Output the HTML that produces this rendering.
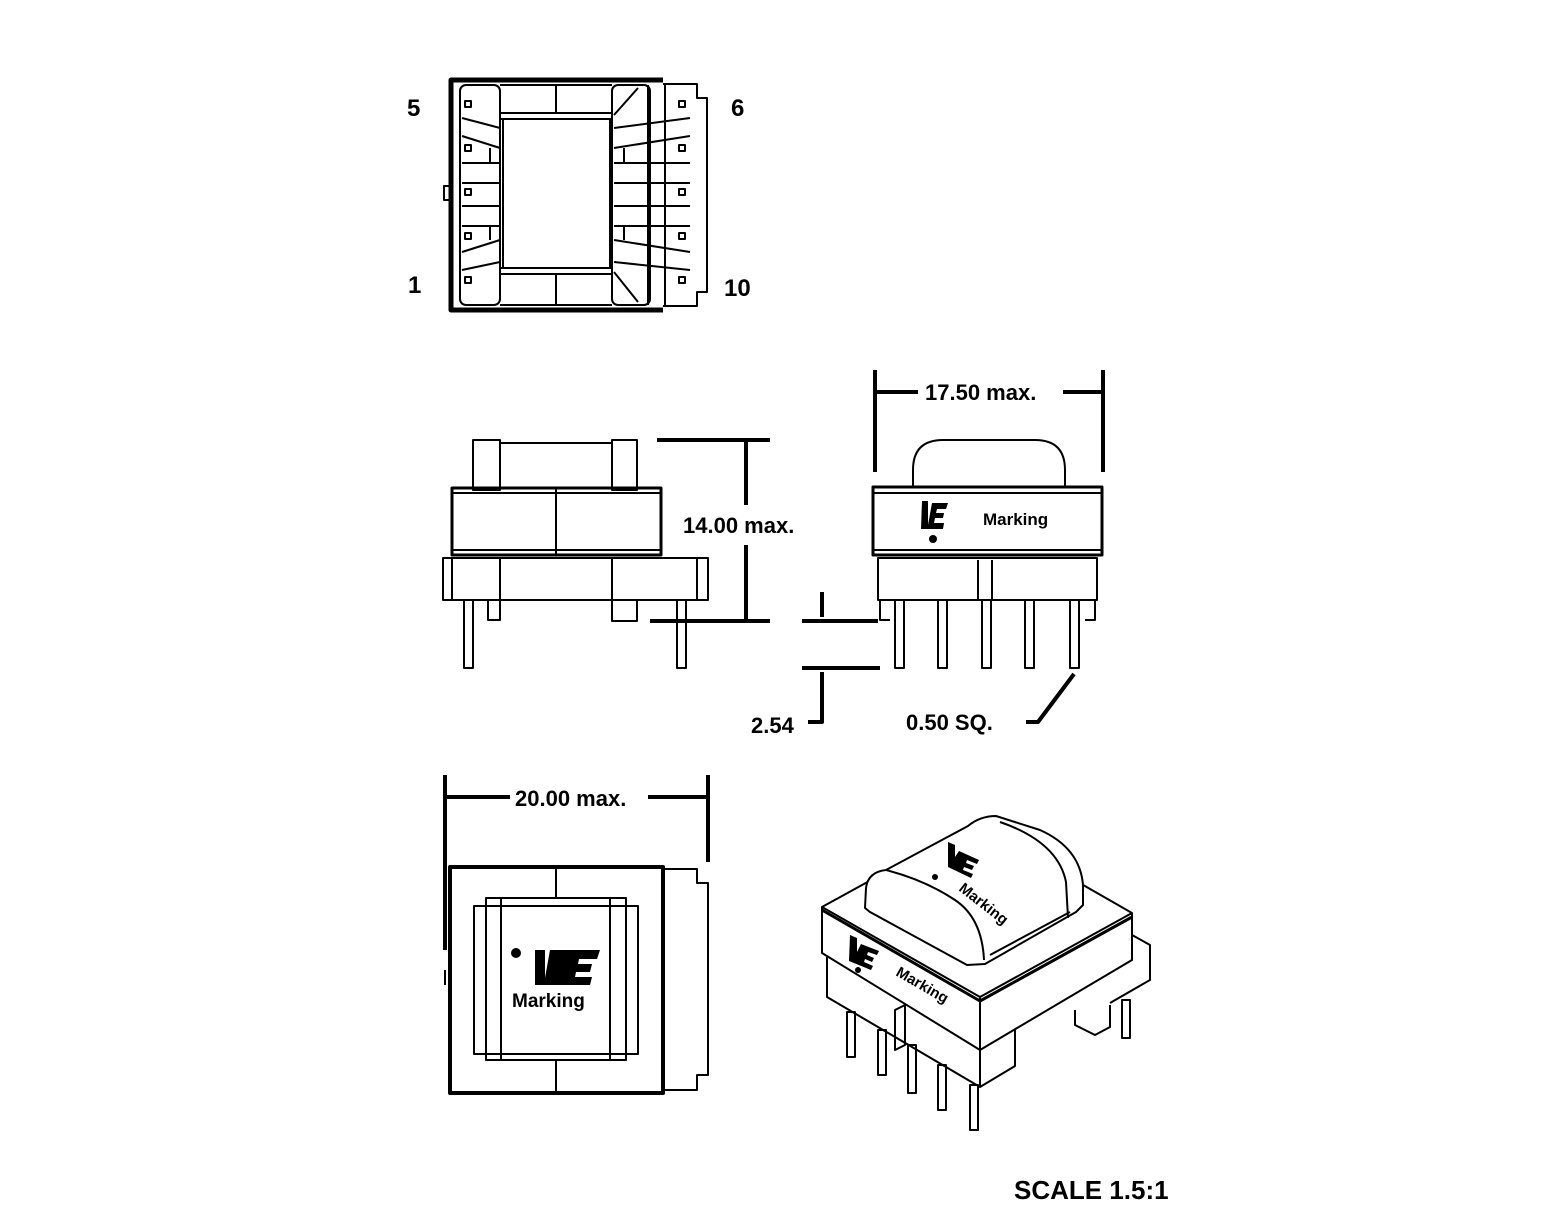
<!DOCTYPE html>
<html><head><meta charset="utf-8"><style>
html,body{margin:0;padding:0;background:#fff;}
svg{display:block;}
text{font-family:"Liberation Sans",Arial,sans-serif;font-weight:bold;fill:#000;}
</style></head><body>
<svg width="1558" height="1229" viewBox="0 0 1558 1229" xmlns="http://www.w3.org/2000/svg">
<g fill="none" stroke="#000" stroke-width="2" stroke-linejoin="round">
<!-- TOP VIEW -->
<path d="M663,80 H451 V310 H663" stroke-width="5"/>
<path d="M451,186 H444 V200 H451"/>
<path d="M663,84 H697 V98 H707 V292 H697 V306 H663"/>
<rect x="460" y="85" width="40" height="220" rx="6"/>
<rect x="612" y="85" width="38" height="220" rx="6"/>
<path d="M500,113 H612 M500,119 H612 M556,85 V113 M503,120 V268 M610,120 V268 M500,268 H612 M500,274 H612 M556,274 V305"/>
<path d="M500,85 H612 M500,305 H612"/>
<path d="M648,85 V305 M665,85 V305"/>
<path d="M614,115 L638,88 M614,272 L638,302"/>
<g stroke-width="2">
<rect x="465" y="101" width="6" height="6"/><rect x="465" y="145" width="6" height="6"/><rect x="465" y="189" width="6" height="6"/><rect x="465" y="233" width="6" height="6"/><rect x="465" y="277" width="6" height="6"/>
<rect x="679" y="101" width="6" height="6"/><rect x="679" y="145" width="6" height="6"/><rect x="679" y="189" width="6" height="6"/><rect x="679" y="233" width="6" height="6"/><rect x="679" y="277" width="6" height="6"/>
</g>
<path d="M462,118 L500,128 M462,136 L500,148 M462,163 H500 M462,183 H500 M462,206 H500 M462,226 H500 M462,252 L500,240 M462,270 L500,262"/>
<path d="M614,128 L690,118 M614,148 L690,136 M614,163 H690 M614,183 H690 M614,206 H690 M614,226 H690 M614,240 L690,252 M614,262 L690,270"/>
<path d="M490,148 V163 M490,226 V240 M624,148 V163 M624,226 V240 M648,148 V163"/>

<!-- SIDE VIEW LEFT -->
<rect x="473" y="440" width="27" height="50"/>
<rect x="612" y="440" width="25" height="50"/>
<path d="M500,443 H612"/>
<rect x="452" y="488" width="209" height="67" stroke-width="3"/>
<path d="M452,493 H661 M452,550 H661 M556,488 V555"/>
<rect x="443" y="558" width="265" height="42"/>
<path d="M452,558 V600 M500,558 V600 M612,558 V600 M637,600 V621 H612 V600 M697,558 V600"/>
<rect x="464" y="600" width="9" height="68"/>
<rect x="677" y="600" width="9" height="68"/>
<rect x="488" y="600" width="12" height="20"/>
<!-- 14.00 dim -->
<path d="M657,440 H770 M650,621 H770 M746,442 V505 M746,545 V619" stroke-width="4"/>
<path d="M802,621 H878 M802,668 H880 M822,592 V617 M822,672 V722 H808 M1026,722 H1038 L1074,674" stroke-width="4"/>

<!-- SIDE VIEW RIGHT -->
<path d="M913,487 V470 Q913,440 943,440 H1035 Q1065,440 1065,470 V487"/>
<rect x="873" y="487" width="229" height="68" stroke-width="3"/>
<path d="M873,493 H1102 M873,550 H1102"/>
<rect x="878" y="558" width="219" height="42"/>
<path d="M978,560 V600 M992,560 V600 M880,600 V620 H890 M1095,600 V620 H1085"/>
<rect x="895" y="600" width="9" height="68"/><rect x="938" y="600" width="9" height="68"/><rect x="982" y="600" width="9" height="68"/><rect x="1025" y="600" width="9" height="68"/><rect x="1070" y="600" width="9" height="68"/>
<path d="M875,370 V472 M1103,370 V472 M877,392 H918 M1063,392 H1101" stroke-width="4"/>

<!-- BOTTOM VIEW -->
<path d="M445,775 V950 M708,775 V862 M447,797 H510 M648,797 H706" stroke-width="4"/>
<rect x="450" y="867" width="213" height="226" stroke-width="4"/>
<path d="M663,869 H697 V883 H708 V1075 H697 V1090 H663"/>
<path d="M445,970 V985"/>
<rect x="474" y="906" width="164" height="148"/>
<rect x="486" y="898" width="140" height="162"/>
<path d="M501,898 V1060 M610,898 V1060 M556,867 V898 M556,1060 V1093"/>

<!-- ISOMETRIC -->
<path d="M822,907 L975,823 L1132,913 L980,997 Z" fill="#fff"/>
<path d="M822,907 V953 L980,1050 L1132,960 V913"/>
<path d="M980,997 V1050"/>
<path d="M822,910 L980,1001 L1132,917" stroke-width="3"/>
<path d="M827,957 V997 L980,1087 V1050 M980,1087 L1015,1066 V1030"/>
<path d="M1132,935 L1150,945 V980 L1110,1003 M1075,1010 V1025 L1095,1035 L1110,1027 V1005"/>
<path d="M895,1010 L905,1005 V1045 L895,1050 Z"/>
<rect x="847" y="1012" width="8" height="45"/><rect x="878" y="1030" width="8" height="45"/><rect x="908" y="1045" width="8" height="48"/><rect x="938" y="1065" width="8" height="45"/><rect x="970" y="1085" width="8" height="45"/><rect x="1122" y="1000" width="8" height="38"/>
<!-- loaf -->
<path d="M865,908 L866,888 Q868,872 886,870 L968,826 Q980,816 996,816 L1040,830 Q1080,848 1083,885 L1083,905 L1076,912 L985,964 L967,965 L870,912 Z" fill="#fff"/>
<path d="M886,870 Q925,880 955,900 Q982,918 984,960"/>
<path d="M1000,822 Q1058,842 1066,882 L1068,918"/>
<path d="M990,955 L1070,912"/>
</g>

<!-- Filled bits -->
<g fill="#000">
<circle cx="933" cy="539" r="4"/>
<circle cx="516" cy="953" r="5"/>
<circle cx="935" cy="877" r="3"/>
<circle cx="858" cy="970" r="3"/>
<path d="M922,501 h6 v24 l4,-22 h16 l-2,6 h-9 l-1,4 h8 l-1,5 h-8 l-1,5 h10 l-1,6 h-22 Z"/>
<path d="M535,950 h10 v28 l5,-28 h50 l-3,9 h-18 l-1,5 h14 l-2,8 h-14 l-1,5 h17 l-2,8 h-55 Z"/>
<path d="M948,842 l7,3 v12 l4,-6 l20,9 l-2,4 l-10,-4 l-1,3 l8,3 l-2,4 l-8,-3 l-1,3 l10,4 l-2,4 l-23,-11 Z"/>
<path d="M850,935 l7,3 v14 l4,-8 l18,7 l-2,4 l-9,-3 l-1,3 l7,3 l-2,4 l-7,-3 l-1,3 l9,4 l-2,4 l-22,-9 Z"/>
</g>

<text x="407" y="116" font-size="24">5</text>
<text x="731" y="116" font-size="24">6</text>
<text x="408" y="293" font-size="24">1</text>
<text x="724" y="296" font-size="24">10</text>
<text x="683" y="533" font-size="22">14.00 max.</text>
<text x="925" y="400" font-size="22">17.50 max.</text>
<text x="751" y="733" font-size="22">2.54</text>
<text x="906" y="730" font-size="22">0.50 SQ.</text>
<text x="515" y="806" font-size="22">20.00 max.</text>
<text x="983" y="525" font-size="17" font-weight="normal">Marking</text>
<text x="512" y="1007" font-size="19">Marking</text>
<text x="958" y="890" font-size="15" transform="rotate(38 958 890)">Marking</text>
<text x="895" y="975" font-size="15" transform="rotate(30 895 975)">Marking</text>
<text x="1014" y="1199" font-size="26">SCALE 1.5:1</text>
</svg>
</body></html>
